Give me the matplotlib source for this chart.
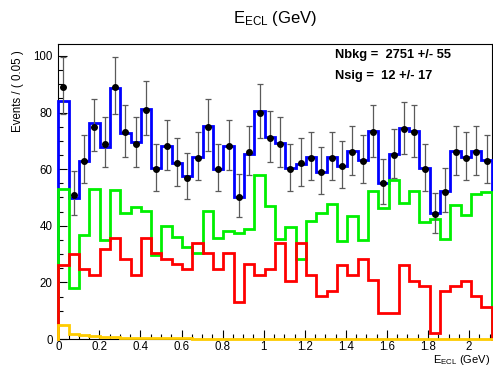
import numpy as np
import matplotlib
matplotlib.use("Agg")
import matplotlib.pyplot as plt
from matplotlib.ticker import MultipleLocator

plt.rcParams['font.family'] = ['Liberation Sans', 'DejaVu Sans']
plt.rcParams['mathtext.fontset'] = 'custom'
plt.rcParams['mathtext.rm'] = 'Liberation Sans'
plt.rcParams['mathtext.it'] = 'Liberation Sans:italic'
plt.rcParams['mathtext.bf'] = 'Liberation Sans:bold'

# Binning of E_ECL (42 bins)
x_min, x_max, n_bins = 0.0, 2.11, 42

# Observed events per bin
data_counts = [89, 51, 63, 75, 69, 89, 73, 69, 81, 60, 68, 62, 57, 64,
               75, 60, 68, 50, 66, 80, 71, 69, 60, 62, 64, 59, 64, 61,
               66, 63, 73, 55, 65, 74, 73, 60, 44, 52, 66, 64, 66, 63]

# Total fit model
total_fit = [84.1, 49.9, 62.7, 76.2, 67.7, 88.8, 72.7, 69.5, 81.3, 60.3,
             68.2, 62.1, 57.4, 64.2, 75.3, 60.2, 68.0, 50.3, 65.4, 80.4,
             71.3, 69.1, 60.4, 61.9, 64.2, 59.0, 64.2, 61.1, 66.4, 63.3,
             73.3, 55.2, 65.3, 74.4, 73.3, 60.3, 44.4, 52.4, 66.4, 64.2,
             66.4, 63.3]

# Background component 1 (green)
bkg_green = [52.9, 17.9, 36.7, 52.9, 35.0, 52.7, 44.4, 46.5, 45.3, 29.7,
             40.0, 35.9, 32.6, 30.3, 45.3, 35.6, 38.2, 37.3, 38.9, 57.9,
             47.0, 35.4, 39.5, 28.4, 41.7, 44.6, 47.6, 34.7, 43.6, 35.0,
             52.4, 46.2, 56.2, 47.9, 52.4, 41.5, 42.3, 35.3, 47.3, 43.8,
             51.2, 51.9]

# Background component 2 (red)
bkg_red = [26.1, 30.0, 24.6, 22.5, 31.8, 35.6, 28.3, 22.5, 35.6, 30.3,
           28.3, 26.4, 24.6, 34.0, 30.3, 24.6, 30.3, 13.2, 26.4, 22.5,
           24.6, 33.8, 20.6, 33.8, 22.5, 15.2, 17.1, 26.1, 22.6, 28.2,
           20.8, 9.3, 9.3, 26.1, 20.6, 18.7, 2.0, 17.0, 18.7, 20.6,
           15.2, 11.4]

# Signal component (orange)
signal = [4.9, 1.8, 1.4, 1.1, 0.8, 0.6, 0.5, 0.4, 0.35, 0.3, 0.25, 0.2,
          0.18, 0.15, 0.12, 0.1, 0.1, 0.08, 0.07, 0.06, 0.05, 0.05, 0.04,
          0.04, 0.03, 0.03, 0.03, 0.02, 0.02, 0.02, 0.02, 0.01, 0.01, 0.01,
          0.01, 0.01, 0.01, 0.01, 0.01, 0.0, 0.0, 0.0]

n_bkg_text = "Nbkg =  2751 +/- 55"
n_sig_text = "Nsig =  12 +/- 17"

edges = np.linspace(x_min, x_max, n_bins + 1)
centers = 0.5 * (edges[:-1] + edges[1:])

W, H, DPI = 493, 367, 100
fig = plt.figure(figsize=(W / DPI, H / DPI), dpi=DPI)
ax = fig.add_axes([58.3 / W, 1 - 339 / H, 433.4 / W, 295 / H])


def closed_step(vals):
    """Histogram outline that drops to zero at both ends."""
    v = np.asarray(vals, dtype=float)
    xs = np.concatenate([[edges[0]], np.repeat(edges, 2)[1:-1], [edges[-1]]])
    ys = np.concatenate([[0.0], np.repeat(v, 2), [0.0]])
    return xs, ys


lw = 2.0
for vals, col, z in [(total_fit, '#0000ff', 3), (bkg_green, '#00f000', 4),
                     (bkg_red, '#ff0000', 5), (signal, '#ffcc00', 6)]:
    xs, ys = closed_step(vals)
    ax.plot(xs, ys, color=col, lw=lw, zorder=z, solid_joinstyle='miter',
            clip_on=False)

# Poisson (Garwood-like) asymmetric errors
n = np.asarray(data_counts, dtype=float)
err_hi = np.sqrt(n + 0.75) + 1.0
err_lo = np.sqrt(n)
ax.errorbar(centers, n, yerr=[err_lo, err_hi], fmt='none', ecolor='#5a5a5a',
            elinewidth=0.9, capsize=2.0, capthick=0.9, zorder=7)
ax.plot(centers, n, 'o', color='black', ms=4.0, zorder=8, clip_on=False)

ax.set_xlim(x_min, x_max)
ax.set_ylim(0, 104.2)

ax.xaxis.set_major_locator(MultipleLocator(0.2))
ax.xaxis.set_minor_locator(MultipleLocator(0.05))
ax.yaxis.set_major_locator(MultipleLocator(20))
ax.yaxis.set_minor_locator(MultipleLocator(5))
ax.set_xticks(np.arange(0, 2.01, 0.2))
ax.set_xticklabels(['0', '0.2', '0.4', '0.6', '0.8', '1', '1.2', '1.4',
                    '1.6', '1.8', '2'])
ax.tick_params(which='both', direction='in', top=False, right=False,
               labelsize=8.3, width=0.8, color='black')
ax.tick_params(which='major', length=6.5)
ax.tick_params(which='minor', length=3.3)
ax.tick_params(axis='x', which='major', pad=1.5)
ax.tick_params(axis='y', which='major', pad=4)
for s in ax.spines.values():
    s.set_linewidth(0.8)

# Axis titles placed ROOT-style (aligned to the axis ends)
fig.text(18.5 / W, 1 - 50 / H, 'Events / ( 0.05 )', fontsize=8.3,
         rotation=90, ha='center', va='top')
fig.text(490 / W, 1 - 360.3 / H, r'E$_{\mathregular{ECL}}$ (GeV)',
         fontsize=8.0, ha='right', va='center')

fig.text(275 / W, 1 - 19 / H, r'E$_{\mathregular{ECL}}$ (GeV)', fontsize=12,
         ha='center', va='center')

ax.text(0.638, 0.964, n_bkg_text, transform=ax.transAxes, fontsize=9.3,
        fontweight='bold', ha='left', va='center', zorder=9)
ax.text(0.638, 0.890, n_sig_text, transform=ax.transAxes, fontsize=9.3,
        fontweight='bold', ha='left', va='center', zorder=9)

fig.savefig('out.png', dpi=DPI)
